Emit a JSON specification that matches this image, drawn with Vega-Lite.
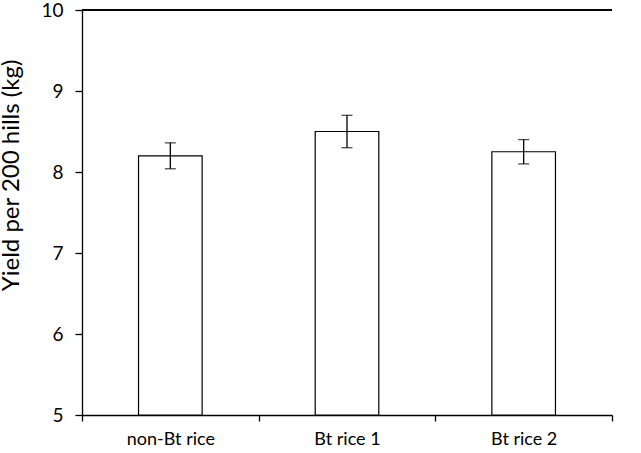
{
  "$schema": "https://vega.github.io/schema/vega-lite/v6.json",
  "width": 530,
  "height": 405,
  "autosize": "none",
  "padding": {"left": 82, "top": 10, "right": 29, "bottom": 38},
  "background": "white",
  "config": {
    "view": {"stroke": null},
    "font": "Lato",
    "axis": {"domainColor": "black", "tickColor": "black", "labelColor": "black", "titleColor": "black", "grid": false, "labelFont": "Lato", "titleFont": "Lato", "titleFontWeight": "normal", "domainWidth": 1.3, "tickWidth": 1.3}
  },
  "data": {
    "values": [
      {"group": "non-Bt rice", "yield": 8.2, "lo": 8.04, "hi": 8.36},
      {"group": "Bt rice 1", "yield": 8.5, "lo": 8.3, "hi": 8.7},
      {"group": "Bt rice 2", "yield": 8.25, "lo": 8.1, "hi": 8.4}
    ]
  },
  "layer": [
    {
      "mark": {"type": "bar", "fill": "white", "stroke": "black", "strokeWidth": 1.2, "width": {"band": 0.36}},
      "encoding": {
        "x": {
          "field": "group", "type": "nominal", "sort": null,
          "scale": {"paddingInner": 0, "paddingOuter": 0},
          "axis": {"title": null, "labelAngle": 0, "tickBand": "extent", "tickSize": 6, "labelFontSize": 18, "labelPadding": 9}
        },
        "y": {"field": "yield", "type": "quantitative", "scale": {"domain": [5, 10], "zero": false, "nice": false},
          "axis": {"title": "Yield per 200 hills (kg)", "values": [5, 6, 7, 8, 9, 10], "format": "d", "tickSize": 7, "labelFontSize": 19, "titleFontSize": 24, "labelPadding": 12, "titlePadding": 17, "titleY": 165}},
        "y2": {"datum": 5}
      }
    },
    {
      "mark": {"type": "rule", "color": "black", "strokeWidth": 1.3},
      "encoding": {"x": {"field": "group", "type": "nominal", "sort": null}, "y": {"field": "lo", "type": "quantitative"}, "y2": {"field": "hi"}}
    },
    {
      "mark": {"type": "tick", "color": "black", "size": 11, "thickness": 1.3, "orient": "horizontal"},
      "encoding": {"x": {"field": "group", "type": "nominal", "sort": null}, "y": {"field": "lo", "type": "quantitative"}}
    },
    {
      "mark": {"type": "tick", "color": "black", "size": 11, "thickness": 1.3, "orient": "horizontal"},
      "encoding": {"x": {"field": "group", "type": "nominal", "sort": null}, "y": {"field": "hi", "type": "quantitative"}}
    },
    {
      "mark": {"type": "rule", "color": "black", "strokeWidth": 1.3},
      "encoding": {"y": {"datum": 10}}
    }
  ]
}
